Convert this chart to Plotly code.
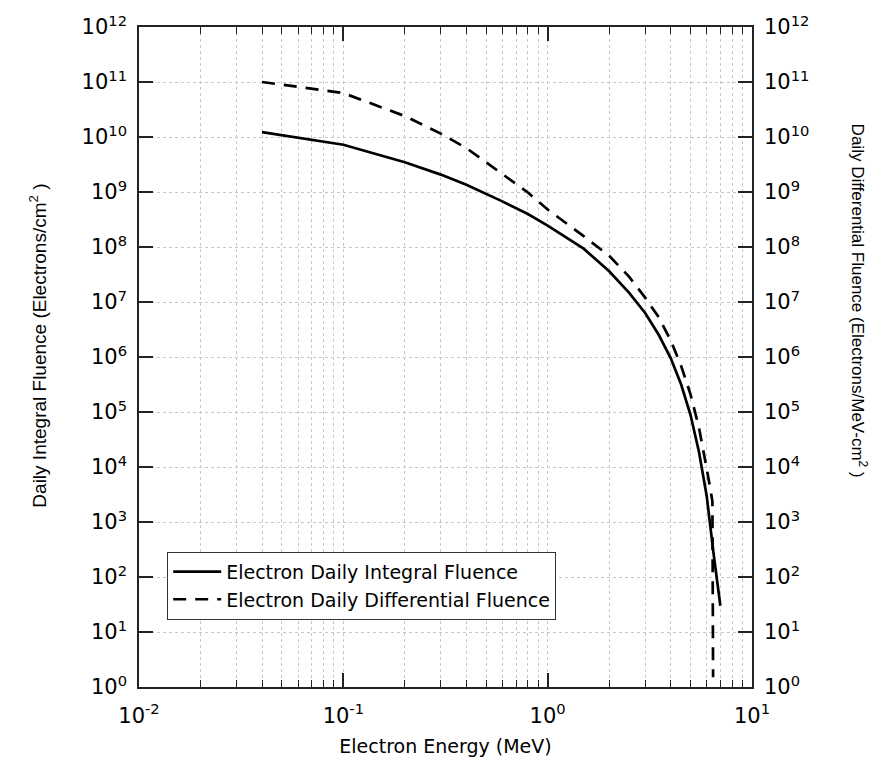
import plotly.graph_objects as go

# Electron energy (MeV)
energy_integral = [0.04, 0.1, 0.2, 0.3, 0.4, 0.6, 0.8, 1.0, 1.5, 2.0, 2.5, 3.0,
                   3.5, 4.0, 4.5, 5.0, 5.5, 6.0, 6.5, 7.0]
integral_fluence = [1.23e10, 7.24e9, 3.47e9, 2.07e9, 1.35e9, 6.76e8, 3.98e8, 2.45e8,
                    9.33e7, 3.63e7, 1.48e7, 6.31e6, 2.51e6, 9.55e5, 3.16e5, 8.9e4,
                    1.9e4, 3.0e3, 2.5e2, 30]

energy_diff = [0.04, 0.1, 0.2, 0.3, 0.4, 0.6, 0.8, 1.0, 1.5, 2.0, 2.5, 3.0,
               3.5, 4.0, 4.5, 5.0, 5.5, 6.0, 6.4, 6.45]
differential_fluence = [1.0e11, 6.3e10, 2.4e10, 1.15e10, 6.3e9, 2.14e9, 9.8e8, 4.8e8,
                        1.58e8, 6.9e7, 2.9e7, 1.2e7, 5.25e6, 2.0e6, 6.9e5, 2.1e5,
                        5.2e4, 9.5e3, 2.4e3, 1.5]

y_tickvals = [10 ** k for k in range(13)]
y_ticktext = ["10<sup>%d</sup>" % k for k in range(13)]
x_tickvals = [0.01, 0.1, 1, 10]
x_ticktext = ["10<sup>-2</sup>", "10<sup>-1</sup>", "10<sup>0</sup>", "10<sup>1</sup>"]
x_minor = [m * 10 ** e for e in (-2, -1, 0) for m in range(2, 10)]

FONT = "DejaVu Sans"
AX = "#222222"
GRID = "#c8c8c8"
TICKSIZE = 21

fig = go.Figure()
fig.add_trace(go.Scatter(
    x=energy_integral, y=integral_fluence, mode="lines",
    name="Electron Daily Integral Fluence",
    line=dict(color="black", width=2.7), yaxis="y"))
fig.add_trace(go.Scatter(
    x=energy_diff, y=differential_fluence, mode="lines",
    name="Electron Daily Differential Fluence",
    line=dict(color="black", width=2.7, dash="13px,9px"), yaxis="y2"))

fig.update_layout(
    width=883, height=767,
    margin=dict(l=139, r=131, t=24, b=80),
    plot_bgcolor="white", paper_bgcolor="white",
    font=dict(family=FONT, color="black", size=17),
    showlegend=True,
    legend=dict(x=0.046, y=0.205, xanchor="left", yanchor="top",
                bgcolor="white", bordercolor="#333", borderwidth=1,
                font=dict(family=FONT, size=19), tracegroupgap=0,
                itemwidth=48),
    xaxis=dict(type="log", range=[-2, 1], tickmode="array",
               tickvals=x_tickvals, ticktext=x_ticktext,
               ticks="inside", ticklen=14, tickwidth=1.5, tickcolor=AX,
               showline=True, linecolor=AX, linewidth=1.5, mirror="ticks",
               showgrid=True, gridcolor=GRID, griddash="dot", gridwidth=1,
               tickfont=dict(family=FONT, size=TICKSIZE), ticklabelstandoff=9,
               minor=dict(tickmode="array", tickvals=x_minor, ticks="inside",
                          ticklen=7, tickwidth=1.2, tickcolor=AX,
                          showgrid=True, gridcolor=GRID, griddash="dot", gridwidth=1),
               title=dict(text="Electron Energy (MeV)", font=dict(family=FONT, size=19),
                          standoff=13),
               zeroline=False),
    yaxis=dict(type="log", range=[0, 12], tickmode="array",
               tickvals=y_tickvals, ticktext=y_ticktext,
               ticks="inside", ticklen=14, tickwidth=1.5, tickcolor=AX,
               showline=True, linecolor=AX, linewidth=1.5, mirror=False,
               showgrid=True, gridcolor=GRID, griddash="dot", gridwidth=1,
               tickfont=dict(family=FONT, size=TICKSIZE), ticklabelstandoff=6,
               zeroline=False),
    yaxis2=dict(type="log", range=[0, 12], tickmode="array",
                tickvals=y_tickvals, ticktext=y_ticktext,
                overlaying="y", side="right", anchor="x",
                ticks="inside", ticklen=14, tickwidth=1.5, tickcolor=AX,
                showline=True, linecolor=AX, linewidth=1.5,
                showgrid=False, tickfont=dict(family=FONT, size=TICKSIZE),
                ticklabelstandoff=6, zeroline=False),
    annotations=[
        dict(text="Daily Integral Fluence (Electrons/cm<sup>2</sup> )",
             xref="paper", yref="paper", x=-0.165, y=0.517, textangle=-90,
             showarrow=False, font=dict(family="Liberation Sans", size=19),
             xanchor="center", yanchor="middle"),
        dict(text="Daily Differential Fluence (Electrons/MeV-cm<sup>2</sup> )",
             xref="paper", yref="paper", x=1.175, y=0.585, textangle=90,
             showarrow=False, font=dict(family="Liberation Sans", size=17),
             xanchor="center", yanchor="middle"),
    ],
)

fig.write_html("out.html")
